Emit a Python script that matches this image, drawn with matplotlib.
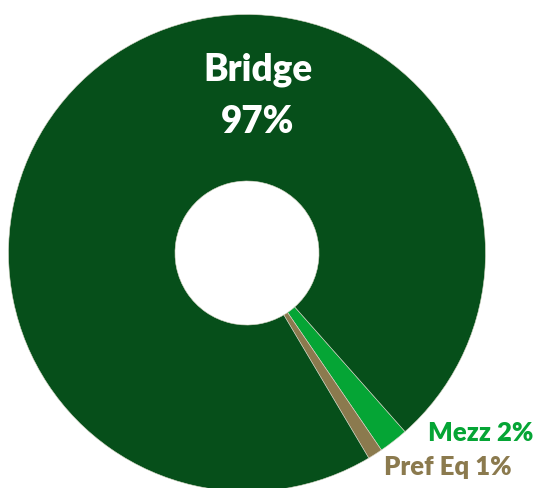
import matplotlib
matplotlib.use("Agg")
import matplotlib.pyplot as plt

categories = ["Mezz", "Pref Eq", "Bridge"]
values = [2.0, 1.0, 97.0]
labels = ["Mezz 2%", "Pref Eq 1%", "Bridge\n97%"]
colors = ["#05A535", "#8B7A4E", "#064F1A"]

W, H = 537, 488
fig = plt.figure(figsize=(W / 100, H / 100), dpi=100)
ax = fig.add_axes([0, 0, 1, 1])
cx, cy, r = 247, H - 253, 238.5
ax.pie(values, colors=colors, startangle=-48.5, counterclock=False,
       center=(cx, cy), radius=r, frame=True,
       wedgeprops=dict(width=r - 72, edgecolor="#d8d8c8", linewidth=0.4))
ax.set_xlim(0, W)
ax.set_ylim(0, H)
ax.set_aspect("equal")
ax.axis("off")

font = ["Lato", "DejaVu Sans"]
ax.text(258, H - 70, "Bridge", color="white", fontsize=26.5, fontweight="heavy",
        family=font, ha="center", va="center")
ax.text(258, H - 122, "97%", color="white", fontsize=26.5, fontweight="heavy",
        family=font, ha="center", va="center")
ax.text(481, H - 433, labels[0], color=colors[0], fontsize=18.5, fontweight="heavy",
        family=font, ha="center", va="center")
ax.text(448, H - 467, labels[1], color=colors[1], fontsize=18.5, fontweight="heavy",
        family=font, ha="center", va="center")

fig.savefig("out.png", dpi=100)
